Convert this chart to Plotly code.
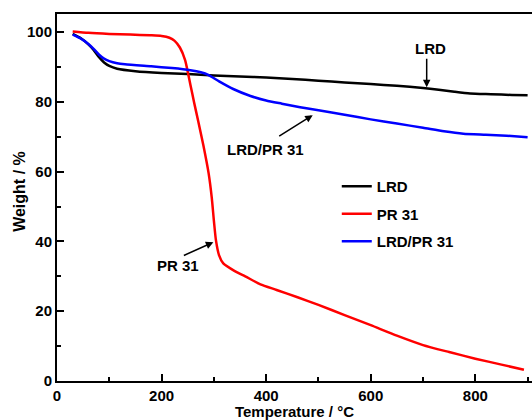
import plotly.graph_objects as go

# ---- data ----
lrd_t = [30, 45, 60, 70, 80, 90, 100, 115, 150, 200, 250, 300, 350, 400, 450, 500, 550, 600, 650, 700, 730, 760, 790, 830, 870, 900]
lrd_w = [99.5, 98.3, 96.5, 94.9, 92.9, 91.3, 90.3, 89.5, 88.8, 88.3, 88.0, 87.6, 87.3, 87.0, 86.6, 86.1, 85.6, 85.1, 84.6, 84.0, 83.5, 82.9, 82.4, 82.2, 82.0, 81.9]

pr_t = [30, 60, 100, 140, 178, 200, 215, 225, 235, 245, 255, 262, 270, 280, 290, 296, 300, 304, 310, 318, 340, 360, 389, 420, 460, 500, 550, 600, 650, 700, 750, 800, 850, 893]
pr_w = [100.2, 99.8, 99.5, 99.3, 99.1, 98.9, 98.4, 97.5, 95.6, 92.0, 85.0, 80.0, 74.5, 67.5, 59.5, 52.5, 46.0, 40.3, 36.0, 33.7, 31.5, 30.0, 27.7, 26.1, 24.0, 21.8, 18.9, 16.0, 13.0, 10.3, 8.3, 6.4, 4.7, 3.2]

blend_t = [30, 45, 60, 70, 80, 90, 100, 115, 130, 180, 220, 255, 275, 290, 310, 337, 370, 400, 430, 465, 500, 550, 600, 650, 700, 740, 777, 820, 860, 900]
blend_w = [99.3, 98.2, 96.6, 95.2, 93.6, 92.4, 91.7, 91.1, 90.8, 90.2, 89.7, 89.1, 88.5, 87.7, 85.9, 83.7, 81.7, 80.4, 79.5, 78.5, 77.6, 76.3, 75.0, 73.8, 72.6, 71.6, 70.9, 70.6, 70.3, 69.9]

x_ticks = [0, 200, 400, 600, 800]
y_ticks = [0, 20, 40, 60, 80, 100]

FONT = "Liberation Sans, Arial, sans-serif"

fig = go.Figure()
line_shape = dict(shape="spline", smoothing=0.6)
fig.add_trace(go.Scatter(x=lrd_t, y=lrd_w, mode="lines", name="LRD", legendgroup="a",
                         line=dict(color="black", width=2.5, **line_shape)))
fig.add_trace(go.Scatter(x=pr_t, y=pr_w, mode="lines", name="PR 31", legendgroup="b",
                         line=dict(color="#ff0000", width=2.5, **line_shape)))
fig.add_trace(go.Scatter(x=blend_t, y=blend_w, mode="lines", name="LRD/PR 31", legendgroup="c",
                         line=dict(color="#0000ff", width=2.5, **line_shape)))

axis_common = dict(
    showgrid=False, zeroline=False, showline=True, linecolor="black", linewidth=2,
    ticks="inside", ticklen=7, tickwidth=1.5, tickcolor="black",
    tickfont=dict(family=FONT, size=15, color="black", weight="bold"),
)

fig.update_xaxes(range=[0, 908.4], tickvals=x_ticks, mirror=True,
                 minor=dict(ticks="inside", ticklen=4, tickwidth=1.5, tickcolor="black", dtick=100, tick0=0),
                 title=dict(text="Temperature / °C", standoff=1,
                            font=dict(family=FONT, size=15, color="black", weight="bold")),
                 **axis_common)
fig.update_yaxes(range=[0, 105.2], tickvals=y_ticks,
                 minor=dict(ticks="inside", ticklen=4, tickwidth=1.5, tickcolor="black", dtick=10, tick0=0),
                 **axis_common)

# y-axis title placed as rotated text
fig.add_annotation(xref="paper", yref="paper", x=-0.078, y=0.518, text="Weight / %",
                   textangle=-90, showarrow=False, xanchor="center", yanchor="middle",
                   font=dict(family=FONT, size=16, color="black", weight="bold"))

ann_font = dict(family=FONT, size=15, color="black", weight="bold")
# text labels
fig.add_annotation(x=714, y=95.4, text="LRD", showarrow=False, font=ann_font)
fig.add_annotation(x=399, y=66.5, text="LRD/PR 31", showarrow=False, font=ann_font)
fig.add_annotation(x=232, y=33.2, text="PR 31", showarrow=False, font=ann_font)
# arrows
arrow = dict(text="", showarrow=True, arrowhead=2, arrowsize=1, arrowwidth=1.5, arrowcolor="black")
fig.add_annotation(x=707, y=84.2, ax=0, ay=-30, **arrow)
fig.add_annotation(x=489, y=76.2, ax=-35, ay=22, **arrow)
fig.add_annotation(x=299, y=39.8, ax=-31, ay=14, **arrow)

fig.update_layout(
    width=532, height=420,
    margin=dict(l=57, r=0, t=14, b=39),
    paper_bgcolor="white", plot_bgcolor="white",
    legend=dict(x=0.589, y=0.575, xanchor="left", yanchor="top",
                font=dict(family=FONT, size=15, color="black", weight="bold"),
                bgcolor="rgba(0,0,0,0)", tracegroupgap=5, traceorder="grouped"),
    showlegend=True,
)

fig.write_html("out.html")
